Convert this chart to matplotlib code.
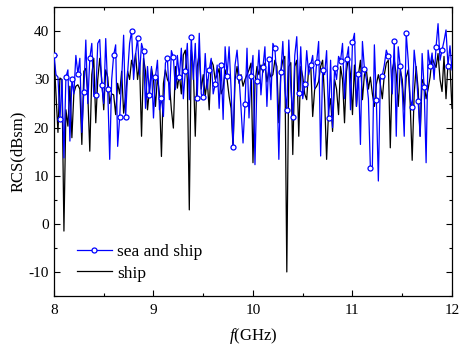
import numpy as np
import matplotlib
matplotlib.use("Agg")
import matplotlib.pyplot as plt
from matplotlib.ticker import MultipleLocator

plt.rcParams['font.family'] = ['Liberation Serif', 'DejaVu Serif']
plt.rcParams['mathtext.fontset'] = 'custom'
plt.rcParams['mathtext.rm'] = 'Liberation Serif'
plt.rcParams['mathtext.it'] = 'Liberation Serif:italic'
plt.rcParams['axes.unicode_minus'] = False

# frequency grid (GHz)
f_start, f_stop, n_points = 8.0, 12.0, 201
freq = np.linspace(f_start, f_stop, n_points)

sea_and_ship = [
    35.1, 31, 30.5, 21.7, 30, 13.7, 30.5, 32, 17.2, 30,
    27, 35, 31.2, 34.4, 19, 27.5, 38.2, 25, 34.4, 37.5,
    26.5, 26.7, 37.5, 38.3, 28.9, 25, 38.5, 28, 13.4, 30,
    35.1, 37.2, 16.1, 22.1, 30, 39.2, 22.1, 31.3, 37.5, 40.1,
    30, 35.1, 38.7, 31, 37.5, 35.9, 24, 32.7, 26.8, 32.7,
    22, 30.6, 34, 23.7, 26.1, 22.3, 33.4, 34.4, 25.8, 36,
    34.6, 27.9, 35, 30.5, 36.5, 26, 31.8, 37.5, 25.8, 38.8,
    30, 37.5, 26.1, 39.6, 27, 26.3, 35.4, 28, 32, 34.4,
    27, 29, 33, 24, 33, 21.7, 36.8, 30.8, 36.8, 28,
    15.9, 33, 36.1, 30.5, 24, 16.8, 24.9, 36.5, 22, 30.8,
    35, 12.3, 29.6, 36.1, 26.8, 32.5, 36.8, 24.4, 34.3, 25.8,
    37.5, 36.5, 30, 13.4, 31.6, 37.9, 28, 23.7, 38.2, 28.6,
    22.2, 35, 38.9, 27.2, 36.8, 26, 29, 36, 31, 33,
    35, 28, 33.7, 37.9, 14.1, 32, 31, 36, 21.9, 34,
    20, 32.3, 30, 34.8, 33.9, 37.5, 26, 34.2, 36.8, 23.7,
    37.7, 39.6, 24.4, 31.2, 16.5, 37.9, 32.2, 30, 26, 11.5,
    12, 37.2, 25.7, 8.9, 30, 30.8, 33, 36.1, 34.8, 35,
    27, 37.9, 18.2, 36.8, 32.7, 28, 18.2, 39.6, 34, 26,
    24.3, 36.1, 32, 25.6, 18.2, 35.4, 28.4, 12.7, 36.1, 32.8,
    35.5, 30, 36.8, 41.6, 34, 36.1, 38, 40.3, 32.9, 37,
    32,
]

ship = [
    35, 27, 19, 30.3, 30, -1.5, 23.7, 20.3, 28.6, 17.9,
    27.2, 28.6, 28.9, 28, 16.5, 31.7, 32.3, 26.8, 15.1, 31,
    34.4, 21, 30, 34.4, 30, 23.7, 32, 30.5, 25, 27,
    26.8, 22.7, 29.2, 27, 31.7, 23, 26.5, 31.7, 30, 34,
    32.3, 35.4, 30, 33.4, 18.2, 34.4, 31.7, 23.7, 28, 32.3,
    30, 24.4, 30.6, 27, 14, 29.2, 32, 30, 29.2, 23.7,
    19.9, 32.7, 28.2, 31, 27, 35.1, 36.1, 30, 2.9, 36.1,
    32.7, 18.2, 32.7, 35.4, 28, 31, 26.5, 30, 23.7, 34,
    33, 30, 31, 32.3, 27, 28.2, 32, 30, 26.5, 24,
    15.8, 30, 32.7, 29.2, 31, 28.6, 30, 31, 32, 33.4,
    12.7, 29.2, 32.7, 31, 33, 31.5, 33.4, 29.5, 32, 30.5,
    31, 34, 32.7, 21, 31.7, 34, 34.8, -10, 32.7, 33.5,
    14.4, 32.7, 34, 18.2, 32.7, 30.6, 27, 25.8, 32.7, 33.4,
    22.3, 28, 28.6, 29.6, 32.7, 34, 25.8, 13.4, 23.7, 26,
    19.2, 30, 28, 22.7, 32.7, 30, 21, 31.7, 34.8, 31,
    22.7, 33, 24.4, 31, 34, 25.8, 31, 32, 28, 30.5,
    27, 24.4, 29, 31, 29, 26, 31, 33.4, 34, 15.8,
    32, 34, 31, 24.4, 32, 30, 23.7, 30.5, 32, 25,
    13.2, 27, 32.7, 28, 18.2, 30, 29, 26, 28, 30.5,
    34.5, 33.4, 32.5, 35.4, 30, 27.5, 34.8, 26, 33.4, 32.7,
    24,
]

x_ticks = [8, 9, 10, 11, 12]
y_ticks = [-10, 0, 10, 20, 30, 40]

fig = plt.figure(figsize=(4.59, 3.48), dpi=100)
ax = fig.add_axes([0.1176, 0.1494, 0.8671, 0.8296])

l1, = ax.plot(freq, sea_and_ship, color='#0000ff', lw=0.9, marker='o',
              markersize=3.6, markerfacecolor='white', markeredgecolor='#0000ff',
              markeredgewidth=0.9, markevery=3, zorder=3, label='sea and ship')
l2, = ax.plot(freq, ship, color='black', lw=0.9, zorder=2, label='ship')

ax.set_xlim(8, 12)
ax.set_ylim(-15, 45)
ax.set_xticks(x_ticks)
ax.set_yticks(y_ticks)
ax.xaxis.set_minor_locator(MultipleLocator(0.5))
ax.yaxis.set_minor_locator(MultipleLocator(5))
ax.tick_params(which='both', direction='in', top=True, right=True, labelsize=11, width=0.8)
ax.tick_params(which='major', length=4)
ax.tick_params(which='minor', length=2.5)
ax.tick_params(axis='x', pad=6)
for s in ax.spines.values():
    s.set_linewidth(0.9)

ax.set_xlabel('$f$(GHz)', fontsize=12, labelpad=6)
ax.set_ylabel('RCS(dBsm)', fontsize=12, labelpad=2)

ax.legend(handles=[l1, l2], loc='lower left', bbox_to_anchor=(0.058, 0.05),
          frameon=False, fontsize=12.5, handlelength=2.0, handletextpad=0.3,
          labelspacing=0.33, borderpad=0, borderaxespad=0)

fig.savefig('out.png', dpi=100)
